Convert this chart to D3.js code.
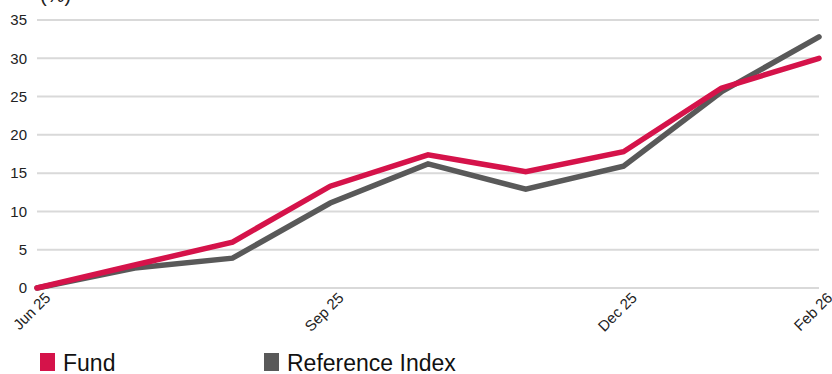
<!DOCTYPE html>
<html>
<head>
<meta charset="utf-8">
<script src="https://cdn.jsdelivr.net/npm/d3@7"></script>
<style>
  html, body { margin: 0; padding: 0; background: #fff; }
  svg { display: block; font-family: "Liberation Sans", Arial, sans-serif; }
</style>
</head>
<body>
<svg id="chart" width="832" height="374"></svg>
<script>
// Monthly cumulative performance (%)
const months = ["Jun 25", "Jul 25", "Aug 25", "Sep 25", "Oct 25", "Nov 25", "Dec 25", "Jan 26", "Feb 26"];
const shownLabels = ["Jun 25", "Sep 25", "Dec 25", "Feb 26"];
const fund = [0, 3.0, 6.0, 13.3, 17.4, 15.2, 17.8, 26.1, 30.0];
const referenceIndex = [0, 2.6, 3.9, 11.1, 16.2, 12.9, 15.9, 25.6, 32.8];
const yTicks = [0, 5, 10, 15, 20, 25, 30, 35];
const seriesNames = ["Fund", "Reference Index"];
const seriesColors = ["#d5134a", "#595959"];

const svg = d3.select("#chart");
const plotLeft = 37, plotRight = 819, plotTop = 20, plotBottom = 288;

const x = d3.scalePoint().domain(months).range([plotLeft, plotRight]);
const y = d3.scaleLinear().domain([0, 35]).range([plotBottom, plotTop]);

// Horizontal gridlines
svg.append("g").selectAll("line").data(yTicks).join("line")
  .attr("x1", plotLeft).attr("x2", plotRight)
  .attr("y1", d => y(d)).attr("y2", d => y(d))
  .attr("stroke", "#d9d9d9").attr("stroke-width", 2);

// Y axis labels
const yAxis = svg.append("g").attr("transform", `translate(${plotLeft},0)`)
  .call(d3.axisLeft(y).tickValues(yTicks).tickSize(0).tickPadding(10));
yAxis.select(".domain").remove();
yAxis.selectAll("text").attr("font-size", 15).attr("fill", "#222")
  .attr("font-family", "Liberation Sans, Arial, sans-serif");

// Unit label (top-left)
svg.append("text").attr("x", 40).attr("y", 2)
  .attr("font-size", 20).attr("fill", "#222").text("(%)");

// X axis labels, rotated
const xAxis = svg.append("g").attr("transform", `translate(0,${plotBottom})`)
  .call(d3.axisBottom(x).tickValues(shownLabels).tickSize(0).tickPadding(0));
xAxis.select(".domain").remove();
xAxis.selectAll("text")
  .attr("font-size", 15).attr("fill", "#222")
  .attr("font-family", "Liberation Sans, Arial, sans-serif")
  .attr("text-anchor", "end")
  .attr("dy", null)
  .attr("transform", "translate(11,8) rotate(-45)")
  .attr("y", 0).attr("x", 0)
  .attr("dominant-baseline", "middle");

// Lines (index first so the fund sits on top)
const line = d3.line().x((d, i) => x(months[i])).y(d => y(d));
[[referenceIndex, seriesColors[1]], [fund, seriesColors[0]]].forEach(([vals, color]) => {
  svg.append("path").datum(vals)
    .attr("d", line)
    .attr("fill", "none")
    .attr("stroke", color)
    .attr("stroke-width", 5.5)
    .attr("stroke-linejoin", "miter")
    .attr("stroke-linecap", "round");
});

// Legend
const legendX = [40, 264];
const legend = svg.append("g").selectAll("g").data(seriesNames).join("g")
  .attr("transform", (d, i) => `translate(${legendX[i]},353)`);
legend.append("rect").attr("width", 15).attr("height", 18)
  .attr("fill", (d, i) => seriesColors[i]);
legend.append("text").attr("x", 23).attr("y", 18)
  .attr("font-size", 23).attr("fill", "#111").text(d => d);
</script>
</body>
</html>
